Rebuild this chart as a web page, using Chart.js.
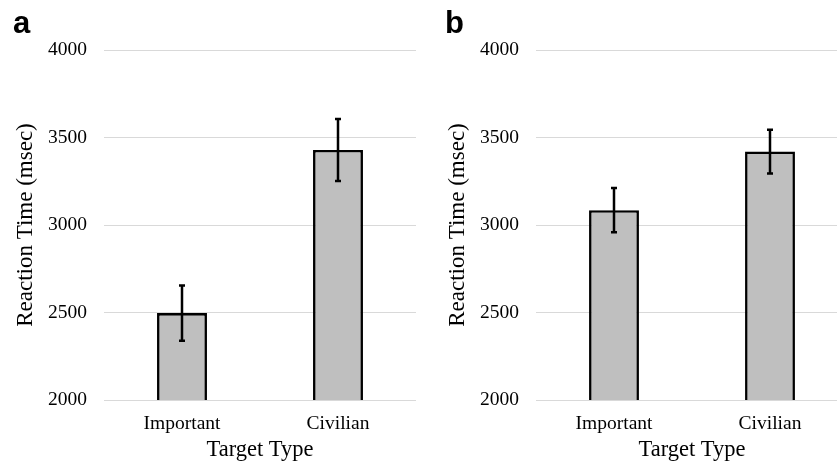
<!DOCTYPE html>
<html>
<head>
<meta charset="utf-8">
<script src="https://cdn.jsdelivr.net/npm/chart.js@4/dist/chart.umd.min.js"></script>
<style>
  html, body { margin: 0; padding: 0; background: #ffffff; }
  #wrap { position: relative; width: 837px; height: 467px; overflow: hidden; background: #fff; }
  .panel { position: absolute; top: 0; width: 420px; height: 467px; }
  #panelA { left: 0; }
  #panelB { left: 432px; }
</style>
</head>
<body>
<div id="wrap">
  <div class="panel" id="panelA"><canvas id="chartA" width="420" height="467"></canvas></div>
  <div class="panel" id="panelB"><canvas id="chartB" width="420" height="467"></canvas></div>
</div>
<script>
// Categories and tick values
const categories = ['Important', 'Civilian'];
const yTicks = [2000, 2500, 3000, 3500, 4000];

// Panel a: mean reaction time and error (msec)
const meansA = [2497, 3429];
const errorsA = [158, 177];

// Panel b: mean reaction time and error (msec)
const meansB = [3085, 3420];
const errorsB = [126, 125];

const xTitle = 'Target Type';
const yTitle = 'Reaction Time (msec)';

const serif = "'Liberation Serif', 'Times New Roman', serif";

// Draws vertical error bars with caps on top of each bar
const errorBarPlugin = {
  id: 'errorBars',
  afterDatasetsDraw(chart, args, opts) {
    const ctx = chart.ctx;
    const yScale = chart.scales.y;
    const meta = chart.getDatasetMeta(0);
    const values = chart.data.datasets[0].data;
    const errs = opts.errors || [];
    ctx.save();
    ctx.strokeStyle = '#000';
    ctx.lineWidth = 2.5;
    ctx.lineCap = 'butt';
    meta.data.forEach((el, i) => {
      const x = el.x;
      const yHi = yScale.getPixelForValue(values[i] + errs[i]);
      const yLo = yScale.getPixelForValue(values[i] - errs[i]);
      const cap = 3;
      ctx.beginPath();
      ctx.moveTo(x, yHi); ctx.lineTo(x, yLo);
      ctx.moveTo(x - cap, yHi); ctx.lineTo(x + cap, yHi);
      ctx.moveTo(x - cap, yLo); ctx.lineTo(x + cap, yLo);
      ctx.stroke();
    });
    ctx.restore();
  }
};

// Draws the bold panel letter in the top-left corner
const panelLetterPlugin = {
  id: 'panelLetter',
  afterDraw(chart, args, opts) {
    const ctx = chart.ctx;
    ctx.save();
    ctx.fillStyle = '#000';
    ctx.font = "bold 31px 'Liberation Sans', Arial, sans-serif";
    ctx.textAlign = 'left';
    ctx.textBaseline = 'alphabetic';
    ctx.fillText(opts.text, 13, 33);
    ctx.restore();
  }
};

function makeChart(canvasId, letter, means, errors) {
  return new Chart(document.getElementById(canvasId), {
    type: 'bar',
    data: {
      labels: categories,
      datasets: [{
        data: means,
        backgroundColor: '#bfbfbf',
        borderColor: '#000000',
        borderWidth: 2.6,
        categoryPercentage: 1.0,
        barPercentage: 0.32
      }]
    },
    plugins: [errorBarPlugin, panelLetterPlugin],
    options: {
      responsive: false,
      animation: false,
      devicePixelRatio: 1,
      layout: { padding: { top: 50, left: 0, right: 4, bottom: 0 } },
      plugins: {
        legend: { display: false },
        tooltip: { enabled: false },
        errorBars: { errors: errors },
        panelLetter: { text: letter }
      },
      scales: {
        x: {
          grid: { display: false, drawTicks: false },
          border: { display: false },
          ticks: {
            color: '#000',
            padding: 12,
            font: { family: serif, size: 19.5, lineHeight: 1.2 }
          },
          title: {
            display: true,
            text: xTitle,
            color: '#000',
            padding: { top: 0, bottom: 6 },
            font: { family: serif, size: 22.5, lineHeight: 1 }
          },
          afterFit(scale) { scale.height = 67; }
        },
        y: {
          min: 2000,
          max: 4000,
          afterBuildTicks(scale) { scale.ticks = yTicks.map(v => ({ value: v })); },
          grid: { color: '#d9d9d9', lineWidth: 1, drawTicks: false },
          border: { display: false },
          ticks: {
            color: '#000',
            padding: 17,
            font: { family: serif, size: 19.5 },
            callback: (value) => String(value)
          },
          title: {
            display: true,
            text: yTitle,
            color: '#000',
            padding: { top: 14, bottom: 0 },
            font: { family: serif, size: 23, lineHeight: 1 }
          },
          afterFit(scale) { scale.width = 104; }
        }
      }
    }
  });
}

makeChart('chartA', 'a', meansA, errorsA);
makeChart('chartB', 'b', meansB, errorsB);
</script>
</body>
</html>
